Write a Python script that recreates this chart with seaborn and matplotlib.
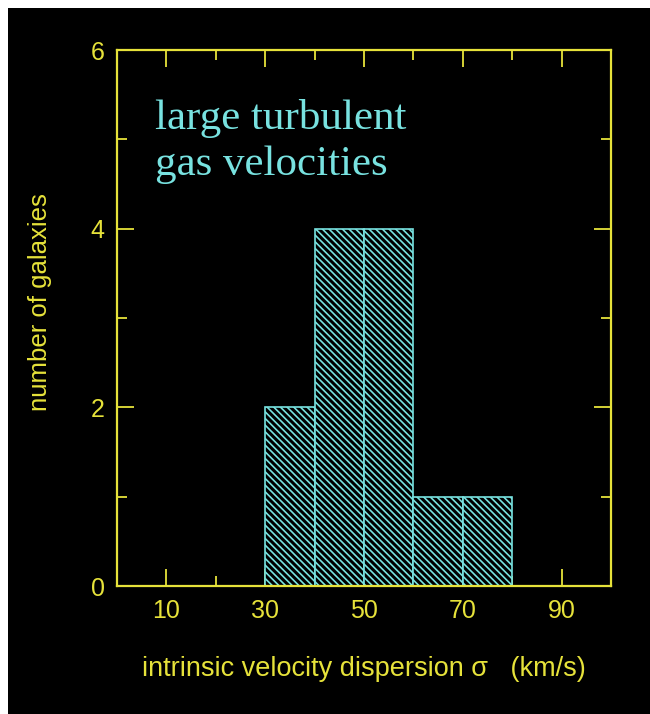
import matplotlib
matplotlib.use("Agg")
import matplotlib.pyplot as plt
from matplotlib.patches import Rectangle
from matplotlib.ticker import FixedLocator
import numpy as np
import pandas as pd
import seaborn as sns

# Histogram of intrinsic velocity dispersions
bin_edges = [30, 40, 50, 60, 70, 80]
counts = [2, 4, 4, 1, 1]
x_major = [10, 30, 50, 70, 90]
x_minor = [20, 40, 60, 80]
y_major = [0, 2, 4, 6]
y_minor = [1, 3, 5]

YELLOW = "#e6e23a"
CYAN = "#78e2e0"

sns.set_theme(style="ticks")
plt.rcParams["font.family"] = ["Liberation Sans", "DejaVu Sans"]
plt.rcParams["hatch.linewidth"] = 1.2

fig = plt.figure(figsize=(6.5, 7.14), dpi=100, facecolor="white")
# dark slide background
fig.patches.append(Rectangle((8 / 650, 0), 1, 1 - 8 / 714, transform=fig.transFigure,
                             facecolor="black", edgecolor="none", zorder=-10))

ax = fig.add_axes([117 / 650, 128 / 714, 494 / 650, 536 / 714])
ax.set_facecolor("black")

centers = [(a + b) / 2 for a, b in zip(bin_edges[:-1], bin_edges[1:])]
df = pd.DataFrame({"sigma": centers, "n": counts})
sns.histplot(data=df, x="sigma", weights="n", bins=bin_edges, ax=ax,
             stat="count", element="bars", fill=True,
             color="black", edgecolor=CYAN, linewidth=1.2, alpha=1)
for p in ax.patches:
    p.set_facecolor("black")
    p.set_edgecolor(CYAN)
    p.set_hatch("\\\\\\\\\\")

ax.set_xlim(0, 100)
ax.set_ylim(0, 6)
ax.xaxis.set_major_locator(FixedLocator(x_major))
ax.xaxis.set_minor_locator(FixedLocator(x_minor))
ax.yaxis.set_major_locator(FixedLocator(y_major))
ax.yaxis.set_minor_locator(FixedLocator(y_minor))

for s in ax.spines.values():
    s.set_visible(True)
    s.set_color(YELLOW)
    s.set_linewidth(1.6)

ax.tick_params(which="both", direction="in", top=True, right=True,
               color=YELLOW, width=1.3, labelcolor=YELLOW, labelsize=18)
ax.tick_params(which="major", length=12, pad=9)
ax.tick_params(which="minor", length=7)

ax.set_xlabel("intrinsic velocity dispersion σ   (km/s)", color=YELLOW,
              fontsize=19.5, labelpad=24)
ax.set_ylabel("number of galaxies", color=YELLOW, fontsize=18.5)
ax.yaxis.set_label_coords(-0.132, 0.53)

ax.text(0.077, 0.908, "large turbulent\ngas velocities", transform=ax.transAxes,
        family=["Liberation Serif", "DejaVu Serif"], fontsize=31, color=CYAN,
        va="top", ha="left", linespacing=1.25)

fig.savefig("out.png", dpi=100, facecolor=fig.get_facecolor())
